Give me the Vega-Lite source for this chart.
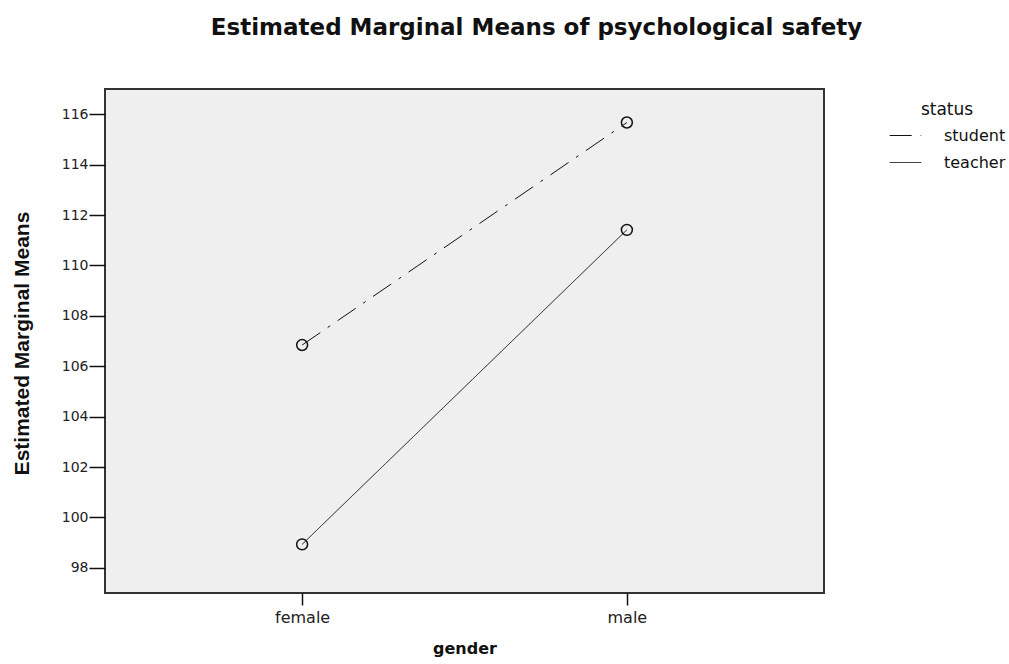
{
  "$schema": "https://vega.github.io/schema/vega-lite/v6.json",
  "width": 719,
  "height": 504,
  "autosize": {"type": "none"},
  "padding": {"left": 105, "top": 89, "right": 185, "bottom": 71},
  "background": "white",
  "title": {
    "text": "Estimated Marginal Means of psychological safety",
    "font": "DejaVu Sans",
    "fontSize": 23,
    "fontWeight": "bold",
    "color": "#111",
    "anchor": "middle",
    "dx": 72,
    "offset": 49
  },
  "config": {
    "view": {"fill": "#efefef", "stroke": "#333333", "strokeWidth": 2},
    "axis": {
      "labelFont": "DejaVu Sans",
      "labelColor": "#222",
      "titleFont": "Liberation Sans",
      "titleFontWeight": "bold",
      "titleColor": "#111",
      "tickColor": "#111",
      "tickWidth": 1.5,
      "domain": false,
      "grid": false
    }
  },
  "data": {
    "values": [
      {"gender": "female", "status": "student", "mean": 106.84},
      {"gender": "male", "status": "student", "mean": 115.67},
      {"gender": "female", "status": "teacher", "mean": 98.93},
      {"gender": "male", "status": "teacher", "mean": 111.41}
    ]
  },
  "encoding": {
    "x": {
      "field": "gender",
      "type": "nominal",
      "sort": ["female", "male"],
      "scale": {"type": "point", "padding": 0.607},
      "axis": {
        "title": "gender",
        "labelAngle": 0,
        "labelFontSize": 16,
        "tickSize": 12,
        "labelPadding": 4,
        "titleFont": "DejaVu Sans",
        "titleFontSize": 16,
        "titleY": 55,
        "titleBaseline": "middle"
      }
    },
    "y": {
      "field": "mean",
      "type": "quantitative",
      "scale": {"domain": [97, 117], "nice": false, "zero": false},
      "axis": {
        "title": "Estimated Marginal Means",
        "values": [98, 100, 102, 104, 106, 108, 110, 112, 114, 116],
        "labelFontSize": 14,
        "tickSize": 16,
        "labelPadding": 1,
        "titleFontSize": 21,
        "titleX": -83,
        "titleY": 254,
        "titleAngle": -90,
        "titleAlign": "center",
        "titleBaseline": "middle"
      }
    }
  },
  "layer": [
    {
      "mark": {"type": "line", "color": "#111", "strokeWidth": 1},
      "encoding": {
        "strokeDash": {
          "field": "status",
          "type": "nominal",
          "scale": {"domain": ["student", "teacher"], "range": [[22, 9, 3, 9], [1, 0]]},
          "legend": {
            "orient": "none",
            "legendX": 784,
            "legendY": 13,
            "title": "status",
            "titleFont": "DejaVu Sans",
            "titleFontSize": 17,
            "titleFontWeight": "normal",
            "titleColor": "#111",
            "titleAnchor": "middle",
            "titlePadding": 0,
            "labelFont": "DejaVu Sans",
            "labelFontSize": 16,
            "labelColor": "#111",
            "symbolType": "stroke",
            "symbolStrokeColor": "#111",
            "symbolStrokeWidth": 1,
            "symbolSize": 1000,
            "rowPadding": 2,
            "labelOffset": 22
          }
        }
      }
    },
    {
      "mark": {"type": "point", "shape": "circle", "filled": false, "color": "#111", "strokeWidth": 1.5, "size": 120, "opacity": 1}
    }
  ]
}
